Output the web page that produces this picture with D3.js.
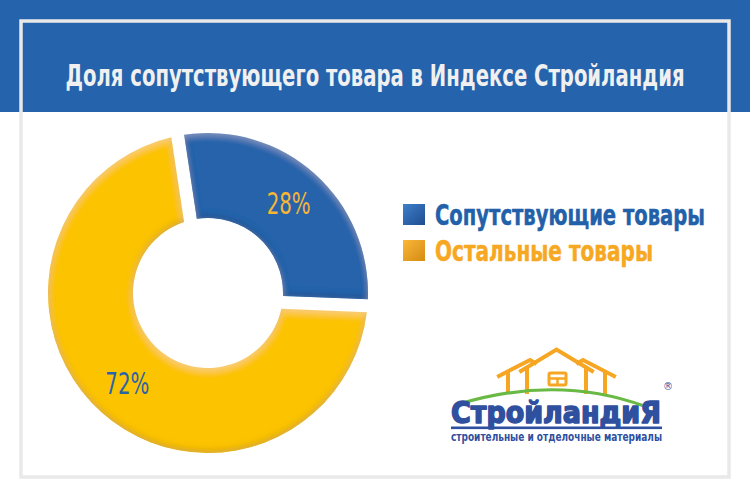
<!DOCTYPE html>
<html>
<head>
<meta charset="utf-8">
<script src="https://cdn.jsdelivr.net/npm/d3@7"></script>
<style>
  html, body { margin: 0; padding: 0; background: #ffffff; }
  svg { display: block; }
</style>
</head>
<body>
<script>
// ---- data ----
const titleText = "Доля сопутствующего товара в Индексе Стройландия";
const categories = ["Сопутствующие товары", "Остальные товары"];
const values = [28, 72];
const valueLabels = ["28%", "72%"];
const logoName = "СтройландиЯ";
const logoTagline = "строительные и отделочные материалы";

// ---- style ----
const W = 750, H = 500;
const sliceColors = ["#2563ab", "#fcc300"];
const labelColors = ["#f6b537", "#2a63aa"];
const legendTextColors = ["#2260a9", "#f7a823"];
const legendGrad = [["#3f7fcb", "#1d4d8f"], ["#fbb73a", "#d48c12"]];
const condensed = "'Liberation Sans Narrow', 'DejaVu Sans Condensed', 'Roboto', sans-serif";

const svg = d3.select("body").append("svg")
  .attr("width", W).attr("height", H)
  .attr("viewBox", `0 0 ${W} ${H}`);

const defs = svg.append("defs");

// bevel / inner shadow filter for slices
const f = defs.append("filter").attr("id", "bevel")
  .attr("x", "-10%").attr("y", "-10%").attr("width", "120%").attr("height", "120%");
f.append("feGaussianBlur").attr("in", "SourceAlpha").attr("stdDeviation", 3.4).attr("result", "blur");
f.append("feOffset").attr("in", "blur").attr("dx", 0).attr("dy", -3).attr("result", "blurUp");
f.append("feComposite").attr("in", "SourceAlpha").attr("in2", "blurUp")
  .attr("operator", "arithmetic").attr("k1", 0).attr("k2", 1).attr("k3", -1).attr("k4", 0).attr("result", "edgeDark");
f.append("feFlood").attr("flood-color", "#000").attr("flood-opacity", 0.3).attr("result", "dark");
f.append("feComposite").attr("in", "dark").attr("in2", "edgeDark").attr("operator", "in").attr("result", "shadow");
f.append("feOffset").attr("in", "blur").attr("dx", 0).attr("dy", 2.5).attr("result", "blurDown");
f.append("feComposite").attr("in", "SourceAlpha").attr("in2", "blurDown")
  .attr("operator", "arithmetic").attr("k1", 0).attr("k2", 1).attr("k3", -1).attr("k4", 0).attr("result", "edgeLight");
f.append("feFlood").attr("flood-color", "#fff").attr("flood-opacity", 0.2).attr("result", "light");
f.append("feComposite").attr("in", "light").attr("in2", "edgeLight").attr("operator", "in").attr("result", "hl");
const fm = f.append("feMerge");
fm.append("feMergeNode").attr("in", "SourceGraphic");
fm.append("feMergeNode").attr("in", "shadow");
fm.append("feMergeNode").attr("in", "hl");

legendGrad.forEach((g, i) => {
  const lg = defs.append("linearGradient").attr("id", "lg" + i)
    .attr("x1", 0).attr("y1", 0).attr("x2", 1).attr("y2", 1);
  lg.append("stop").attr("offset", "0%").attr("stop-color", g[0]);
  lg.append("stop").attr("offset", "100%").attr("stop-color", g[1]);
});

// ---- background / header ----
svg.append("rect").attr("x", 0).attr("y", 0).attr("width", W).attr("height", 112).attr("fill", "#2563ad");
svg.append("rect").attr("x", 21).attr("y", 21).attr("width", 708).attr("height", 456)
  .attr("fill", "none").attr("stroke", "#e9e9e9").attr("stroke-width", 3.5);

svg.append("text")
  .attr("x", 375).attr("y", 86)
  .attr("text-anchor", "middle")
  .attr("font-family", condensed)
  .attr("font-weight", "bold")
  .attr("font-size", 30)
  .attr("fill", "#f0f0f0")
  .attr("textLength", 619).attr("lengthAdjust", "spacingAndGlyphs")
  .text(titleText);

// ---- donut ----
const cx = 208, cy = 293, rOuter = 160, rInner = 75;
const pie = d3.pie().sort(null).startAngle(-0.15).endAngle(2 * Math.PI - 0.15);
const arcsData = pie(values).map((d, i) => Object.assign({}, d, { padAngle: i === 1 ? 0.163 : 0 }));
const arc = d3.arc().innerRadius(rInner).outerRadius(rOuter).padRadius(rOuter);
const labelArc = d3.arc().innerRadius(121).outerRadius(121);

const g = svg.append("g").attr("transform", `translate(${cx},${cy})`);
g.selectAll("path.slice").data(arcsData).join("path")
  .attr("class", "slice")
  .attr("d", arc)
  .attr("fill", (d, i) => sliceColors[i])
  .attr("filter", "url(#bevel)");

g.selectAll("text.lbl").data(arcsData).join("text")
  .attr("class", "lbl")
  .attr("transform", d => `translate(${labelArc.centroid(d)})`)
  .attr("text-anchor", "middle")
  .attr("dy", "0.36em")
  .attr("font-family", condensed)
  .attr("font-size", 30)
  .attr("fill", (d, i) => labelColors[i])
  .attr("textLength", 44).attr("lengthAdjust", "spacingAndGlyphs")
  .text((d, i) => valueLabels[i]);

// ---- legend ----
const legendY = d3.scalePoint().domain(categories).range([204, 240]);
const leg = svg.append("g");
const items = leg.selectAll("g").data(categories).join("g")
  .attr("transform", d => `translate(403,${legendY(d)})`);
items.append("rect").attr("width", 22).attr("height", 21)
  .attr("fill", (d, i) => `url(#lg${i})`);
items.append("text")
  .attr("x", 32).attr("y", 21)
  .attr("font-family", condensed)
  .attr("font-weight", "bold")
  .attr("font-size", 28)
  .attr("fill", (d, i) => legendTextColors[i])
  .attr("stroke", (d, i) => legendTextColors[i]).attr("stroke-width", 0.5)
  .attr("textLength", (d, i) => [270, 218][i])
  .attr("lengthAdjust", "spacingAndGlyphs")
  .text(d => d);

// ---- logo ----
const logo = svg.append("g");
const orange = "#f6a623";
const houseStroke = { stroke: orange, "stroke-width": 4, fill: "none", "stroke-linejoin": "miter", "stroke-linecap": "square" };
function P(d) {
  const p = logo.append("path").attr("d", d);
  Object.entries(houseStroke).forEach(([k, v]) => p.attr(k, v));
  return p;
}
// center house
P("M521,371 L556.5,349.5 L592,371");
P("M527,368 L527,392");
P("M586,368 L586,392");
// left house
P("M499,376 L530,360 L535,363");
P("M508,372 L508,392");
// right house
P("M614,376 L583,360 L578,363");
P("M605,372 L605,392");
// window
logo.append("rect").attr("x", 549).attr("y", 373).attr("width", 17).attr("height", 12).attr("rx", 1.5)
  .attr("fill", "none").attr("stroke", orange).attr("stroke-width", 3);
logo.append("path").attr("d", "M549,378.5 L566,378.5 M557.5,378.5 L557.5,385")
  .attr("stroke", orange).attr("stroke-width", 2.5);
// green hill
logo.append("path").attr("d", "M456,405 Q556,374 644,406")
  .attr("fill", "none").attr("stroke", "#6ab944").attr("stroke-width", 3.2);
// name
logo.append("text").attr("x", 451).attr("y", 423)
  .attr("font-family", "'DejaVu Sans', 'Liberation Sans', sans-serif")
  .attr("font-weight", "bold").attr("font-size", 30)
  .attr("fill", "#2f4f9f")
  .attr("stroke", "#2f4f9f").attr("stroke-width", 1.6).attr("stroke-linejoin", "round")
  .attr("textLength", 210).attr("lengthAdjust", "spacingAndGlyphs")
  .text(logoName);
logo.append("rect").attr("x", 451).attr("y", 426.5).attr("width", 211).attr("height", 2.6).attr("fill", "#2f4f9f");
logo.append("text").attr("x", 451).attr("y", 441)
  .attr("font-family", condensed)
  .attr("font-weight", "bold").attr("font-size", 11.5)
  .attr("fill", "#2f4f9f")
  .attr("textLength", 211).attr("lengthAdjust", "spacingAndGlyphs")
  .text(logoTagline);
logo.append("text").attr("x", 668).attr("y", 390)
  .attr("text-anchor", "middle")
  .attr("font-family", "'DejaVu Sans', sans-serif").attr("font-size", 10)
  .attr("fill", "#2f4f9f").text("®");
</script>
</body>
</html>
